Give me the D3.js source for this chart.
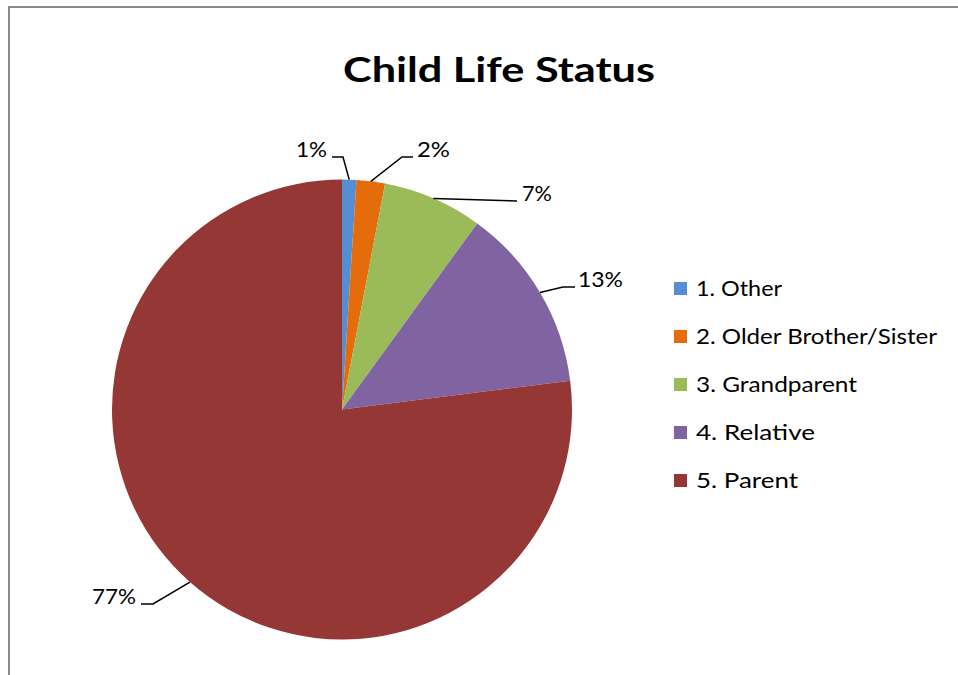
<!DOCTYPE html>
<html>
<head>
<meta charset="utf-8">
<script src="https://cdn.jsdelivr.net/npm/d3@7"></script>
<style>
  html, body { margin: 0; padding: 0; background: #ffffff; }
  svg { display: block; }
  text { font-family: Lato, "Open Sans", "Liberation Sans", sans-serif; fill: #000; }
</style>
</head>
<body>
<svg id="chart" width="958" height="675"></svg>
<script>
// Child life status — share of respondents by caregiver
const categories = ["1. Other", "2. Older Brother/Sister", "3. Grandparent", "4. Relative", "5. Parent"];
const values = [1, 2, 7, 13, 77];
const valueLabels = ["1%", "2%", "7%", "13%", "77%"];
const colors = ["#558ED5", "#E46C0A", "#9BBB59", "#8064A2", "#953735"];

// Leader-line layout for each value label: the leader runs from the arc
// midpoint to an elbow (kx, ly) and then horizontally to lx; the text sits
// just beyond lx on the same side.
const labelLayout = [
  { kx: 343, lx: 332, ly: 157, anchor: "end",   tx: 327, w: 31 },
  { kx: 402, lx: 413, ly: 157, anchor: "start", tx: 417, w: 33 },
  { kx: null, lx: 517, ly: 201, anchor: "start", tx: 522, w: 30 },
  { kx: 563, lx: 575, ly: 287, anchor: "start", tx: 578, w: 45 },
  { kx: 153, lx: 141, ly: 604, anchor: "end",   tx: 136, w: 44 }
];
const legendTextWidths = [86, 241, 161, 119, 102];

const svg = d3.select("#chart");

// frame
svg.append("rect")
  .attr("x", 9).attr("y", 7)
  .attr("width", 1000).attr("height", 1000)
  .attr("fill", "none")
  .attr("stroke", "#8a8a8a")
  .attr("stroke-width", 2);

// title
svg.append("text")
  .attr("x", 343).attr("y", 82)
  .attr("textLength", 312)
  .attr("lengthAdjust", "spacingAndGlyphs")
  .style("font-size", "35px")
  .style("font-weight", "bold")
  .text("Child Life Status");

// pie
const cx = 342, cy = 409.5, radius = 230;
const pie = d3.pie().sort(null).value(d => d).startAngle(0).endAngle(2 * Math.PI);
const arcs = pie(values);
const arc = d3.arc().innerRadius(0).outerRadius(radius);

const g = svg.append("g").attr("transform", `translate(${cx},${cy})`);
g.selectAll("path.slice")
  .data(arcs)
  .join("path")
  .attr("class", "slice")
  .attr("d", arc)
  .attr("fill", (d, i) => colors[i]);

// value labels with leader lines
arcs.forEach((d, i) => {
  const L = labelLayout[i];
  const mid = (d.startAngle + d.endAngle) / 2;
  const mx = cx + radius * Math.sin(mid);
  const my = cy - radius * Math.cos(mid);
  const pts = [[mx, my]];
  if (L.kx !== null) pts.push([L.kx, L.ly]);
  pts.push([L.lx, L.ly]);
  svg.append("path")
    .attr("d", d3.line()(pts))
    .attr("fill", "none")
    .attr("stroke", "#000")
    .attr("stroke-width", 1.5);
  svg.append("text")
    .attr("x", L.tx).attr("y", L.ly)
    .attr("text-anchor", L.anchor)
    .attr("textLength", L.w)
    .attr("lengthAdjust", "spacingAndGlyphs")
    .style("font-size", "21px")
    .text(valueLabels[i]);
});

// legend
const legend = svg.append("g").attr("transform", "translate(674,0)");
const item = legend.selectAll("g.item")
  .data(categories)
  .join("g")
  .attr("class", "item")
  .attr("transform", (d, i) => `translate(0,${296 + i * 48})`);
item.append("rect")
  .attr("x", 0).attr("y", -14)
  .attr("width", 13).attr("height", 13)
  .attr("fill", (d, i) => colors[i]);
item.append("text")
  .attr("x", 22).attr("y", 0)
  .attr("textLength", (d, i) => legendTextWidths[i])
  .attr("lengthAdjust", "spacingAndGlyphs")
  .style("font-size", "21px")
  .text(d => d);
</script>
</body>
</html>
